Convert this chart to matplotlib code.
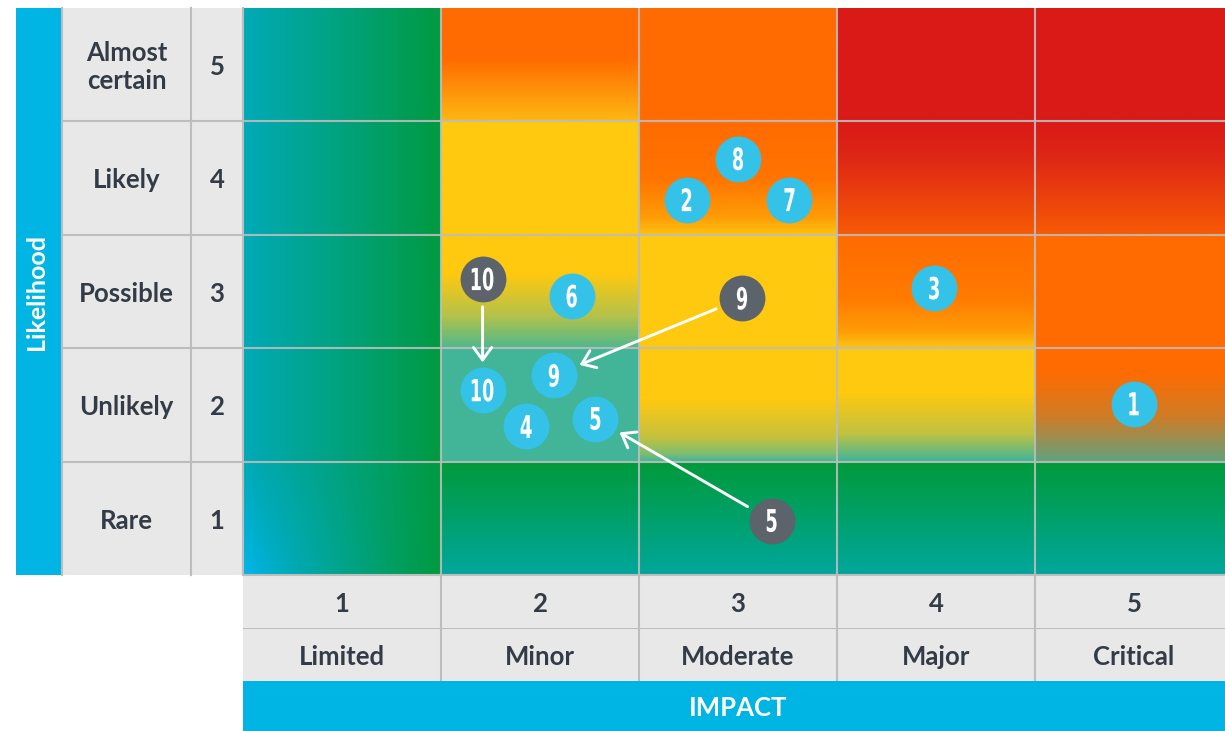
import matplotlib.pyplot as plt
import numpy as np
from matplotlib.colors import LinearSegmentedColormap
from matplotlib.font_manager import FontProperties
from matplotlib.patches import PathPatch
from matplotlib.textpath import TextPath
from matplotlib.transforms import Affine2D, ScaledTranslation

# ---- data -------------------------------------------------------------
impact_labels = ["Limited", "Minor", "Moderate", "Major", "Critical"]
likelihood_labels = ["Rare", "Unlikely", "Possible", "Likely", "Almost\ncertain"]
scale_values = [1, 2, 3, 4, 5]

# current position of each risk (impact, likelihood)
risk_ids = [1, 2, 3, 4, 5, 6, 7, 8, 9, 10]
risk_impact = [5.00, 2.74, 3.99, 1.93, 2.28, 2.16, 3.26, 3.00, 2.07, 1.71]
risk_likelihood = [2.01, 3.81, 3.03, 1.81, 1.88, 2.96, 3.81, 4.17, 2.26, 2.13]

# previous position of risks that moved
moved_ids = [10, 9, 5]
moved_impact = [1.71, 3.02, 3.17]
moved_likelihood = [3.11, 2.94, 0.98]

# ---- styling ----------------------------------------------------------
RED = "#DA1A16"
ORANGE = "#FF6B00"
YELLOW = "#FEC90F"
GREEN = "#009A3A"
TEAL = "#00A79C"
BLUE = "#00B4E3"
DOT = "#35C2E8"
GREY_DOT = "#5C636B"
HEADER = "#E8E8E8"
LINE = "#BDBDBD"
INK = "#333C46"

# vertical colour stops per cell, top (0) to bottom (1); key = (impact, likelihood)
cell_stops = {
    (2, 5): [(0, ORANGE), (0.45, ORANGE), (1, "#FDB713")],
    (2, 4): [(0, YELLOW), (1, YELLOW)],
    (2, 3): [(0, YELLOW), (0.35, YELLOW), (0.72, "#B4C24B"), (1, "#50B88C")],
    (2, 2): [(0, "#42B598"), (1, "#42B598")],
    (3, 5): [(0, ORANGE), (1, ORANGE)],
    (3, 4): [(0, ORANGE), (0.5, "#FF7400"), (0.85, "#FF9C06"), (1, "#FEC20F")],
    (3, 3): [(0, YELLOW), (1, YELLOW)],
    (3, 2): [(0, YELLOW), (0.45, YELLOW), (0.78, "#C6C23C"), (0.92, "#86BD6B"), (1, "#45B596")],
    (4, 5): [(0, RED), (1, RED)],
    (4, 4): [(0, RED), (0.3, "#DE2616"), (1, "#F75A05")],
    (4, 3): [(0, ORANGE), (0.55, "#FF7A00"), (0.85, "#FF9B06"), (1, "#FEC310")],
    (4, 2): [(0, YELLOW), (0.4, YELLOW), (0.75, "#C0C241"), (1, "#40B59A")],
    (5, 5): [(0, RED), (1, RED)],
    (5, 4): [(0, RED), (0.3, "#DE2616"), (1, "#F75A05")],
    (5, 3): [(0, ORANGE), (1, ORANGE)],
    (5, 2): [(0, ORANGE), (0.2, ORANGE), (0.6, "#D07C26"), (1, "#62A27F")],
}
for c in range(2, 6):
    cell_stops[(c, 1)] = [(0, GREEN), (1, TEAL)]

limited_cmap = LinearSegmentedColormap.from_list(
    "limited", [(0, "#00B5E6"), (0.25, "#00AAB8"), (1, "#009A42")])

W, H = 1225, 731
fig = plt.figure(figsize=(W / 100, H / 100), dpi=100)


def px_axes(x0, y0, x1, y1):
    return fig.add_axes([x0 / W, 1 - y1 / H, (x1 - x0) / W, (y1 - y0) / H])


def cell_image(col, row, n=120):
    u = np.linspace(0, 1, n)[None, :]
    v = np.linspace(0, 1, n)[:, None]
    if col == 1:
        if row == 1:
            t = np.clip(0.25 + 0.75 * u - 0.27 * v * (1 - u) ** 1.5, 0, 1)
        else:
            t = 0.25 + 0.75 * u + 0 * v
        return limited_cmap(t)[..., :3]
    cmap = LinearSegmentedColormap.from_list(f"c{col}{row}", cell_stops[(col, row)])
    return np.repeat(cmap(v[:, 0])[:, None, :3], 2, axis=1)


NUM_PROP = FontProperties(family="DejaVu Sans", weight="bold")


def draw_number(ax, x, y, text, height_px=23, squeeze=0.58):
    """Tall, condensed white digits centred on (x, y)."""
    path = TextPath((0, 0), text, size=10, prop=NUM_PROP)
    bb = path.get_extents()
    k = height_px / bb.height
    trans = (Affine2D().translate(-(bb.x0 + bb.x1) / 2, -(bb.y0 + bb.y1) / 2)
             .scale(k * squeeze, k)
             + ScaledTranslation(x, y, ax.transData))
    ax.add_patch(PathPatch(path, transform=trans, facecolor="white", lw=0, zorder=6))


# ---- heat map ---------------------------------------------------------
heat = px_axes(243, 8, 1233, 575)
for col in scale_values:
    for row in scale_values:
        heat.imshow(cell_image(col, row), extent=(col - 0.5, col + 0.5, row - 0.5, row + 0.5),
                    origin="upper", aspect="auto", interpolation="bilinear")
for b in np.arange(1.5, 5.5, 1.0):
    heat.axvline(b, color=LINE, lw=1.5, alpha=0.9)
    heat.axhline(b, color=LINE, lw=1.5, alpha=0.9)
heat.axhline(0.5, color=LINE, lw=1.5)
heat.set_xlim(0.5, 5.5)
heat.set_ylim(0.5, 5.5)
heat.axis("off")

for rid, x0, y0 in zip(moved_ids, moved_impact, moved_likelihood):
    i = risk_ids.index(rid)
    heat.annotate("", xy=(risk_impact[i], risk_likelihood[i]), xytext=(x0, y0),
                  arrowprops=dict(arrowstyle="->,head_length=0.45,head_width=0.33",
                                  color="white", lw=2.1, shrinkA=20, shrinkB=20,
                                  mutation_scale=20), zorder=4)

heat.plot(moved_impact, moved_likelihood, "o", ms=33, color=GREY_DOT, mew=0, zorder=5)
for rid, x, y in zip(moved_ids, moved_impact, moved_likelihood):
    draw_number(heat, x, y, str(rid))

heat.plot(risk_impact, risk_likelihood, "o", ms=33, color=DOT, mew=0, zorder=5)
for rid, x, y in zip(risk_ids, risk_impact, risk_likelihood):
    draw_number(heat, x, y, str(rid))

label_font = dict(family=["Lato", "DejaVu Sans"], fontweight="bold", fontsize=18.5,
                  color=INK, ha="center", va="center")

# ---- likelihood side ----------------------------------------------------
bar = px_axes(16, 8, 62, 575)
bar.set_facecolor(BLUE)
bar.set_xticks([])
bar.set_yticks([])
for s in bar.spines.values():
    s.set_visible(False)
bar.text(0.45, 0.5, "Likelihood", rotation=90, transform=bar.transAxes,
         **{**label_font, "color": "white", "fontsize": 18})

for (x0, x1, labels) in [(62, 191, likelihood_labels), (191, 243, scale_values)]:
    ax = px_axes(x0, 8, x1, 575)
    ax.set_facecolor(HEADER)
    ax.set_xlim(0, 1)
    ax.set_ylim(0.5, 5.5)
    for row, lab in zip(scale_values, labels):
        ax.text(0.5, row - 0.02, str(lab), linespacing=1.2, **label_font)
    for b in np.arange(1.5, 5.5, 1.0):
        ax.axhline(b, color=LINE, lw=1.5)
    ax.set_xticks([])
    ax.set_yticks([])
    for s in ax.spines.values():
        s.set_color(LINE)
        s.set_linewidth(1.5)
    ax.spines["top"].set_visible(False)
    ax.spines["bottom"].set_visible(False)

# ---- impact side --------------------------------------------------------
for (y0, y1, labels) in [(575, 628, scale_values), (628, 681, impact_labels)]:
    ax = px_axes(243, y0, 1233, y1)
    ax.set_facecolor(HEADER)
    ax.set_xlim(0.5, 5.5)
    ax.set_ylim(0, 1)
    for col, lab in zip(scale_values, labels):
        ax.text(col, 0.45, str(lab), **label_font)
    for b in np.arange(1.5, 5.5, 1.0):
        ax.axvline(b, color=LINE, lw=1.5)
    ax.set_xticks([])
    ax.set_yticks([])
    for s in ax.spines.values():
        s.set_visible(False)
    ax.axhline(1, color=LINE, lw=1.5)

imp = px_axes(243, 681, 1233, 731)
imp.set_facecolor(BLUE)
imp.set_xlim(0.5, 5.5)
imp.set_xticks([])
imp.set_yticks([])
for s in imp.spines.values():
    s.set_visible(False)
imp.text(3, 0.47, "IMPACT", transform=imp.get_xaxis_transform(),
         **{**label_font, "color": "white"})

fig.savefig("out.png", dpi=100)
